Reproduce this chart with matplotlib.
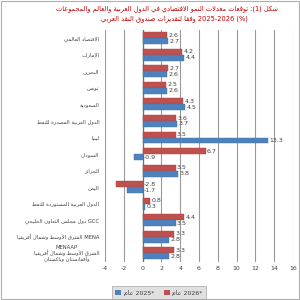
import re
import matplotlib
matplotlib.use("Agg")
import matplotlib.pyplot as plt
from matplotlib.patches import Rectangle, Patch

# ---------------- data (top to bottom) ----------------
categories = [
    "الاقتصاد العالمي",
    "الإمارات",
    "البحرين",
    "تونس",
    "السعودية",
    "الدول العربية المصدرة للنفط",
    "ليبيا",
    "السودان",
    "الجزائر",
    "اليمن",
    "الدول العربية المستوردة للنفط",
    "GCC دول مجلس التعاون الخليجي",
    "MENA الشرق الأوسط وشمال أفريقيا",
    "MENAAP\nالشرق الأوسط وشمال أفريقيا\nوأفغانستان وباكستان",
]
values_2026 = [2.6, 4.2, 2.7, 2.5, 4.3, 3.6, 3.5, 6.7, 3.5, -2.8, 0.8, 4.4, 3.3, 3.3]
values_2025 = [2.7, 4.4, 2.6, 2.6, 4.5, 3.7, 13.3, -0.9, 3.8, -1.7, 0.3, 3.5, 2.8, 2.8]
series_names = ["2025* عام", "2026* عام"]
title_lines = ["شكل (1): توقعات معدلات النمو الاقتصادي في الدول العربية والعالم والمجموعات",
               "2025-2026 (%) وفقا لتقديرات صندوق النقد العربي"]
x_ticks = [-4, -2, 0, 2, 4, 6, 8, 10, 12, 14, 16]

# ---------------- minimal Arabic shaping ----------------
FOUR = {'ب': 0xFE8F, 'ت': 0xFE95, 'ث': 0xFE99, 'ج': 0xFE9D, 'ح': 0xFEA1, 'خ': 0xFEA5,
        'س': 0xFEB1, 'ش': 0xFEB5, 'ص': 0xFEB9, 'ض': 0xFEBD, 'ط': 0xFEC1, 'ظ': 0xFEC5,
        'ع': 0xFEC9, 'غ': 0xFECD, 'ف': 0xFED1, 'ق': 0xFED5, 'ك': 0xFED9, 'ل': 0xFEDD,
        'م': 0xFEE1, 'ن': 0xFEE5, 'ه': 0xFEE9, 'ي': 0xFEF1, 'ئ': 0xFE89}
TWO = {'ا': 0xFE8D, 'أ': 0xFE83, 'إ': 0xFE87, 'آ': 0xFE81, 'ؤ': 0xFE85, 'ة': 0xFE93,
       'د': 0xFEA9, 'ذ': 0xFEAB, 'ر': 0xFEAD, 'ز': 0xFEAF, 'و': 0xFEED, 'ى': 0xFEEF}
LAMALEF = {'ا': 0xFEFB, 'أ': 0xFEF7, 'إ': 0xFEF9, 'آ': 0xFEF5}


def shape(s):
    res = []
    n = len(s)
    i = 0
    while i < n:
        c = s[i]
        prev = s[i - 1] if i > 0 else ''
        cprev = prev in FOUR
        if c == 'ل' and i + 1 < n and s[i + 1] in LAMALEF:
            b = LAMALEF[s[i + 1]]
            res.append(chr(b + 1 if cprev else b))
            i += 2
            continue
        if c in FOUR or c in TWO:
            nxt = s[i + 1] if i + 1 < n else ''
            cnext = c in FOUR and (nxt in FOUR or nxt in TWO)
            b = FOUR.get(c, TWO.get(c))
            if cprev and cnext:
                cp = b + 3
            elif cprev:
                cp = b + 1
            elif cnext:
                cp = b + 2
            else:
                cp = b
            res.append(chr(cp))
        else:
            res.append(c)
        i += 1
    return ''.join(res)


def rtl(s):
    out = []
    for line in s.split('\n'):
        v = shape(line)[::-1]
        v = re.sub(r'[A-Za-z0-9.*%()\-]+(?: [A-Za-z0-9.*%()\-]+)*',
                   lambda m: m.group(0)[::-1], v)
        out.append(v)
    return '\n'.join(out)


# ---------------- plot ----------------
plt.rcParams['font.family'] = ['DejaVu Sans']
RED = '#C0504D'
BLUE = '#4F81BD'
TXT = '#404040'

fig = plt.figure(figsize=(3, 3), dpi=100)
fig.patch.set_facecolor('white')
fig.add_artist(Rectangle((0.004, 0.004), 0.992, 0.992, transform=fig.transFigure,
                         fill=False, edgecolor='#b0b0b0', lw=0.8))

ax = fig.add_axes([0.35, 0.128, 0.627, 0.772])
n = len(categories)
ypos = list(range(n))
h = 0.36
ax.barh([y - h / 2 for y in ypos], values_2026, height=h, color=RED, edgecolor='#a94441', lw=0.3, zorder=3)
ax.barh([y + h / 2 for y in ypos], values_2025, height=h, color=BLUE, edgecolor='#3f6fa8', lw=0.3, zorder=3)

for y, v in zip(ypos, values_2026):
    xx = v + 0.15 if v >= 0 else 0.15
    ax.text(xx, y - h / 2, f"{v:.1f}", fontsize=4.5, color=TXT, va='center', ha='left', zorder=4)
for y, v in zip(ypos, values_2025):
    xx = v + 0.15 if v >= 0 else 0.15
    ax.text(xx, y + h / 2, f"{v:.1f}", fontsize=4.5, color=TXT, va='center', ha='left', zorder=4)

ax.set_xlim(-4, 16)
ax.set_ylim(n - 0.5, -0.5)
ax.set_xticks(x_ticks)
ax.set_xticklabels([str(t) for t in x_ticks], fontsize=4.5, color=TXT)
ax.set_yticks(ypos)
ax.set_yticklabels([rtl(c) for c in categories], fontsize=3.8, color=TXT,
                   multialignment='center', linespacing=1.0)
ax.tick_params(axis='both', length=0, pad=4)
ax.tick_params(axis='x', pad=3)
for sp in ax.spines.values():
    sp.set_visible(False)
ax.grid(axis='x', color='#9a9a9a', lw=0.8, zorder=0)
ax.axvline(0, color='#707070', lw=0.9, zorder=2)
ax.set_axisbelow(True)

fig.text(0.555, 0.968, rtl(title_lines[0]), fontsize=4.8, color='#C00000', ha='center', va='center')
fig.text(0.58, 0.938, rtl(title_lines[1]), fontsize=4.8, color='#C00000', ha='center', va='center')

handles = [Patch(facecolor=BLUE, edgecolor='none'), Patch(facecolor=RED, edgecolor='none')]
leg = fig.legend(handles, [rtl(s) for s in series_names], loc='center', bbox_to_anchor=(0.53, 0.025),
                 ncol=2, fontsize=4.5, frameon=True, fancybox=False, handlelength=1, handleheight=1,
                 handletextpad=0.4, columnspacing=1.5, borderpad=0.5)
leg.get_frame().set_facecolor('#d9d9d9')
leg.get_frame().set_edgecolor('#a0a0a0')
leg.get_frame().set_linewidth(0.6)
for t in leg.get_texts():
    t.set_color(TXT)

fig.savefig('out.png', dpi=100, facecolor='white')
